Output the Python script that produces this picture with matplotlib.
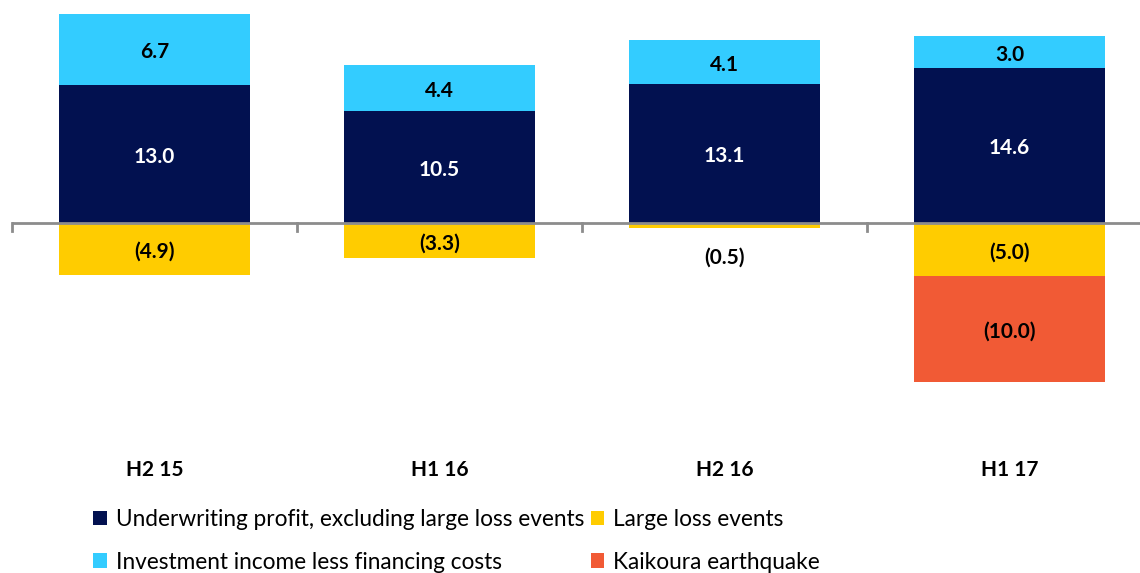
import matplotlib
matplotlib.use("Agg")
import matplotlib.pyplot as plt
import numpy as np
from matplotlib.patches import Patch

plt.rcParams["font.family"] = ["Lato", "DejaVu Sans"]

# Half-year result components ($m)
periods = ["H2 15", "H1 16", "H2 16", "H1 17"]
underwriting = [13.0, 10.5, 13.1, 14.6]
investment = [6.7, 4.4, 4.1, 3.0]
large_loss = [-4.9, -3.3, -0.5, -5.0]
kaikoura = [0.0, 0.0, 0.0, -10.0]

C_UW = "#021150"
C_INV = "#33CCFF"
C_LL = "#FFCC00"
C_KK = "#F15A35"

W, H = 1140, 573
fig = plt.figure(figsize=(W / 100, H / 100), dpi=100)
# axes run slightly past the right edge so the last category keeps even spacing
ax = fig.add_axes([12 / W, 1 - 397.5 / H, 1140 / W, 397.5 / H])

x = np.arange(len(periods))
bw = 0.67
ax.bar(x, underwriting, bw, color=C_UW)
ax.bar(x, investment, bw, bottom=underwriting, color=C_INV)
ax.bar(x, large_loss, bw, color=C_LL)
ax.bar(x, kaikoura, bw, bottom=large_loss, color=C_KK)

ax.set_xlim(-0.5, 3.5)
ax.set_ylim(-16.5, 21)
ax.axis("off")

# category axis line with divider ticks
ax.axhline(0, color="#8c8c8c", lw=2, zorder=3)
for xt in np.arange(-0.5, 4.0, 1.0):
    ax.plot([xt, xt], [0, -0.8], color="#8c8c8c", lw=2, clip_on=False)


def fmt(v):
    return f"({abs(v):.1f})" if v < 0 else f"{v:.1f}"


lab = dict(ha="center", va="center", fontsize=15, fontweight="bold")
for i in x:
    ax.text(i, underwriting[i] / 2 - 0.3, fmt(underwriting[i]), color="white", **lab)
    ax.text(i, underwriting[i] + investment[i] / 2 - 0.3, fmt(investment[i]),
            color="black", **lab)
    ll_y = large_loss[i] / 2 if large_loss[i] < -1 else -3.0
    ax.text(i, ll_y - 0.3, fmt(large_loss[i]), color="black", **lab)
    if kaikoura[i] < 0:
        ax.text(i, large_loss[i] + kaikoura[i] / 2 - 0.3, fmt(kaikoura[i]),
                color="black", **lab)
    ax.text(i, -23.3, periods[i], color="black", clip_on=False, **lab)

handles = [
    Patch(facecolor=C_UW, label="Underwriting profit, excluding large loss events"),
    Patch(facecolor=C_INV, label="Investment income less financing costs"),
    Patch(facecolor=C_LL, label="Large loss events"),
    Patch(facecolor=C_KK, label="Kaikoura earthquake"),
]
fig.legend(handles=handles, ncol=2, loc="upper left",
           bbox_to_anchor=(93 / W, 1 - 509 / H), frameon=False,
           fontsize=16.3, handlelength=0.6, handleheight=0.6,
           handletextpad=0.4, columnspacing=0.3, labelspacing=0.95,
           borderpad=0, borderaxespad=0)

fig.savefig("out.png", dpi=100)
